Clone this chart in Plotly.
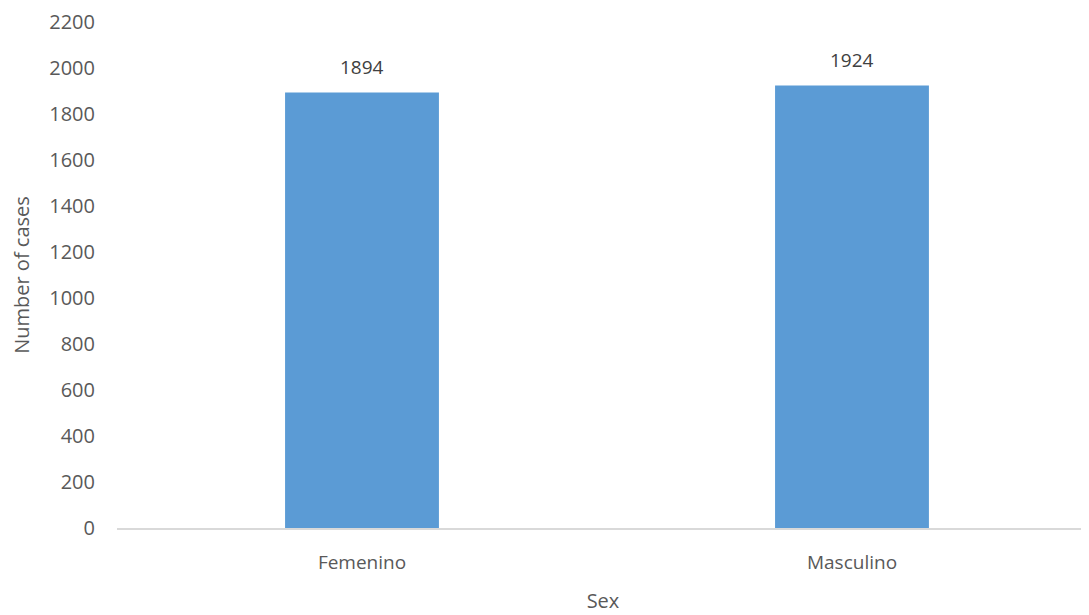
import plotly.graph_objects as go

categories = ["Femenino", "Masculino"]
values = [1894, 1924]
y_ticks = [0, 200, 400, 600, 800, 1000, 1200, 1400, 1600, 1800, 2000, 2200]

FONT = "Open Sans"
GREY = "#595959"

fig = go.Figure()
fig.add_trace(go.Bar(
    x=categories, y=values,
    marker=dict(color="#5B9BD5", line=dict(width=0)),
    width=0.314,
    hoverinfo="skip",
))
for c, v in zip(categories, values):
    fig.add_annotation(x=c, y=v, text=str(v), showarrow=False,
                       yanchor="bottom", yshift=10,
                       font=dict(family=FONT, size=19, color="#404040"))

fig.update_layout(
    width=1081, height=607,
    margin=dict(l=109, r=0, t=14, b=87),
    paper_bgcolor="white", plot_bgcolor="white",
    showlegend=False,
    font=dict(family=FONT, size=19, color=GREY),
    xaxis=dict(
        range=[-0.5, 1.4837],
        showline=True, linecolor="#d9d9d9", linewidth=1.5,
        showgrid=False, zeroline=False,
        ticks="outside", ticklen=16, tickcolor="rgba(0,0,0,0)",
        tickfont=dict(family=FONT, size=19, color=GREY),
        title=dict(text="Sex", standoff=20,
                   font=dict(family=FONT, size=20, color=GREY)),
    ),
    yaxis=dict(
        range=[0, 2200],
        tickvals=y_ticks,
        showline=False, showgrid=False, zeroline=False,
        ticks="outside", ticklen=17, tickcolor="rgba(0,0,0,0)",
        tickfont=dict(family=FONT, size=20, color=GREY),
        title=dict(text="Number of cases", standoff=14,
                   font=dict(family=FONT, size=20, color=GREY)),
    ),
)

fig.write_html("out.html")
